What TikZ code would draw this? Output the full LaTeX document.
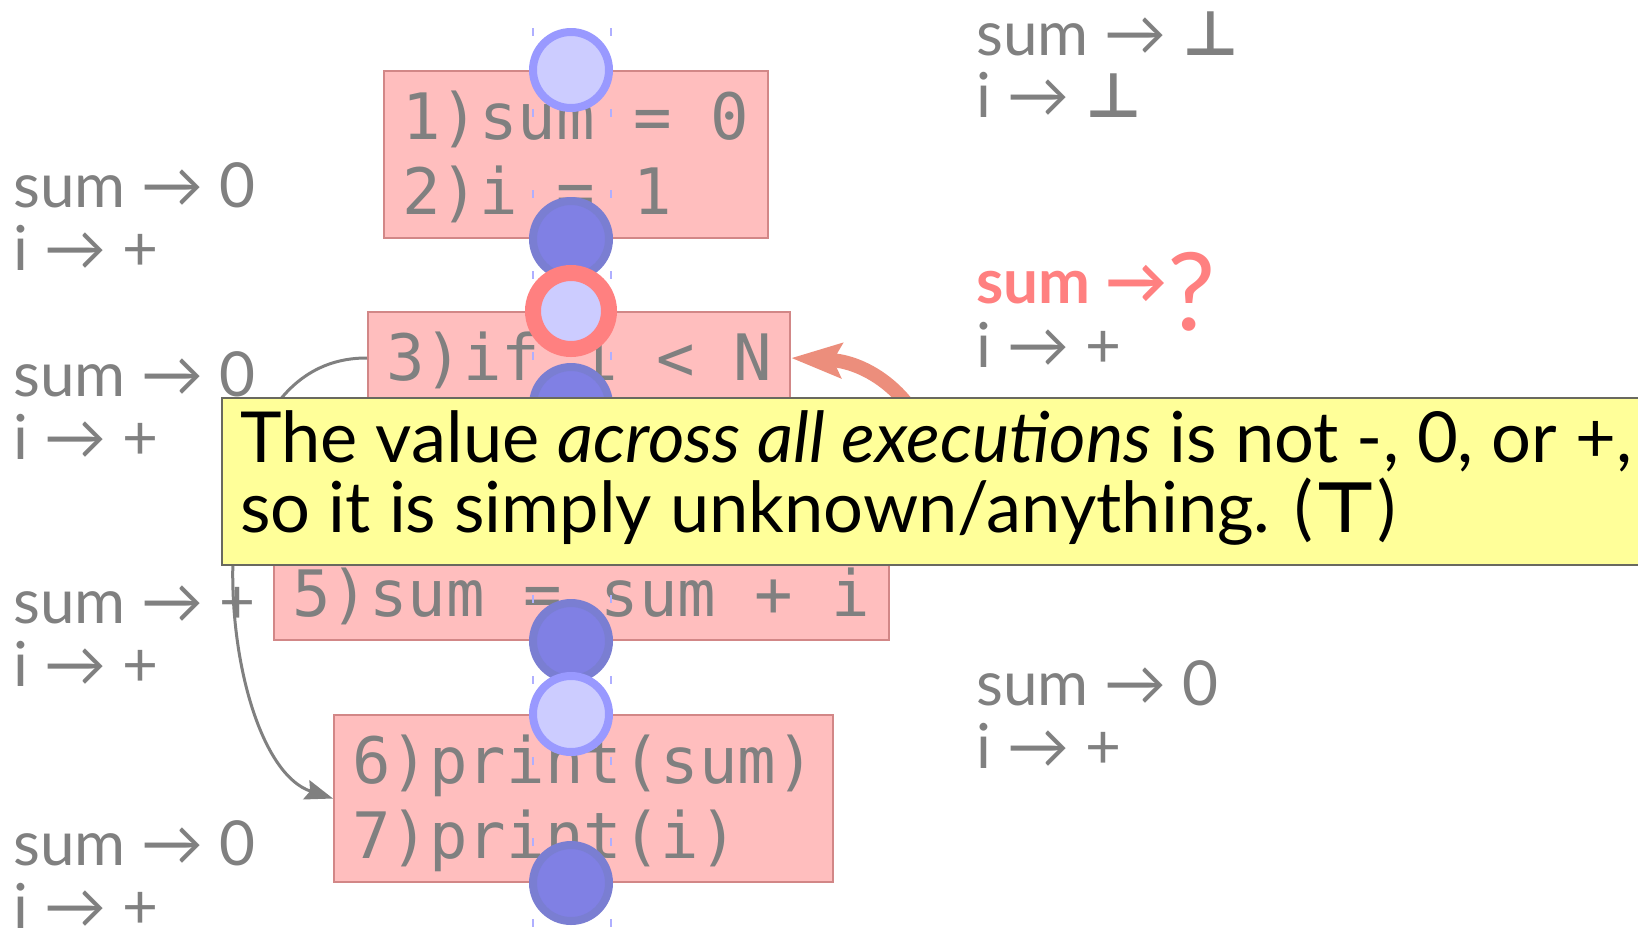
\documentclass[tikz,border=0pt]{standalone}
\usepackage{fontspec}
\setmainfont{Lato}
\setmonofont{DejaVu Sans Mono}
\newfontfamily\symfont{DejaVu Sans}
\usetikzlibrary{arrows.meta,calc}
\definecolor{labelgray}{RGB}{128,128,128}
\definecolor{codefill}{RGB}{255,190,190}
\definecolor{codeedge}{RGB}{210,135,135}
\definecolor{entryfill}{RGB}{204,204,255}
\definecolor{entryedge}{RGB}{153,153,255}
\definecolor{exitfill}{RGB}{128,128,228}
\definecolor{exitedge}{RGB}{122,126,210}
\definecolor{focusred}{RGB}{255,128,128}
\definecolor{loopred}{RGB}{236,142,124}
\definecolor{notefill}{RGB}{255,255,153}
\definecolor{noteedge}{RGB}{105,105,95}
\definecolor{guideblue}{RGB}{175,175,255}
\newcommand\arr{→}
\newcommand\tack[1]{{\symfont\bfseries #1}}
\newcommand\cl[1]{\rule[-12pt]{0pt}{46pt}#1}
\setlength{\lineskiplimit}{-100pt}

\begin{document}
\begin{tikzpicture}[x=0.5pt, y=-0.5pt,
  codebox/.style={draw=codeedge, line width=1pt, fill=codefill, anchor=north west, align=left,
    inner xsep=9.2pt, inner ysep=0pt, text=labelgray,
    font=\ttfamily\fontsize{32pt}{37.5pt}\selectfont},
  entry/.style={circle, minimum size=38pt, inner sep=0pt, line width=4pt, draw=entryedge, fill=entryfill},
  exit/.style={entry, draw=exitedge, fill=exitfill},
  focus/.style={entry, draw=focusred, line width=8pt},
  vals/.style={anchor=base west, inner sep=0pt, text=labelgray, font=\fontsize{31pt}{31pt}\selectfont},
  flow/.style={labelgray, line width=1.5pt, -{Stealth[length=14pt, width=10pt, inset=2pt]}},
  loopback/.style={loopred, line width=7pt, -{Stealth[length=25pt, width=17pt, inset=4pt]}},
  guide/.style={guideblue, line width=1pt, dash pattern=on 4pt off 36.5pt, dash phase=26.5pt},
  notebox/.style={draw=noteedge, line width=1pt, fill=notefill, anchor=north west,
    minimum width=725pt, minimum height=83.5pt, inner sep=0pt},
  notetext/.style={anchor=north west, inner sep=0pt, align=left,
    font=\fontsize{35.2pt}{35pt}\selectfont}
]
  \fill[white] (0,0) rectangle (1638,928);
  \useasboundingbox (0,0) rectangle (1638,928);

  % program boxes
  \node[codebox] (b1) at (383,70) {\cl{1)sum = 0}\\\cl{2)i = 1}};
  \node[codebox] (b3) at (367,311) {\cl{3)if i < N}};
  \node[codebox] (b5) at (273,472) {\cl{}\\\cl{5)sum = sum + i}};
  \node[codebox] (b6) at (333,714) {\cl{6)print(sum)}\\\cl{7)print(i)}};

  \draw[guide] (533,0) -- (533,928);
  \draw[guide] (611,0) -- (611,928);

  % program points
  \coordinate (col) at (571,0);
  \foreach \b/\s in {b1/entry, b3/focus, b5/entry, b6/entry} {
    \node[\s] (\b-in) at (\b.north -| col) {};
    \node[exit] (\b-out) at (\b.south -| col) {};
  }

  % control flow
  \draw[flow] (b3.west) .. controls (180,357) and (215,760) .. (b6.west);
  \coordinate (loopstart) at (935,470);
  \draw[loopback] (loopstart) .. controls (925,400) and (870,362) .. (b3.east);

  % abstract states
  \foreach \n/\y/\v in {s1/207/0, s2/396/0, s3/623/+, s4/865/0} {
    \node[vals] (\n-sum) at (13,\y) {sum \arr\ \v};
    \node[vals] (\n-i) at (13,\y+63) {i \arr\ +};
  }
  \node[vals] (top-sum) at (976,55) {sum \arr\ \tack{⊥}};
  \node[vals] (top-i) at (976,117) {i \arr\ \tack{⊥}};
  \node[vals, text=focusred, font=\bfseries\fontsize{31pt}{31pt}\selectfont] (mid-sum) at (976,303)
    {sum \arr\raisebox{-13.5pt}{\mdseries\fontsize{54pt}{54pt}\selectfont ?}};
  \node[vals] (mid-i) at (976,367) {i \arr\ +};
  \node[vals] (low-sum) at (976,705) {sum \arr\ 0};
  \node[vals] (low-i) at (976,768) {i \arr\ +};

  % remark
  \node[notebox] (note) at (221,397) {};
  \node[notetext] (notetxt) at (240,402) {\rule{0pt}{30pt}The value \textit{across all executions} is not -, 0, or +,\\so it is simply unknown/anything. (\tack{⊤})};
\end{tikzpicture}
\end{document}
